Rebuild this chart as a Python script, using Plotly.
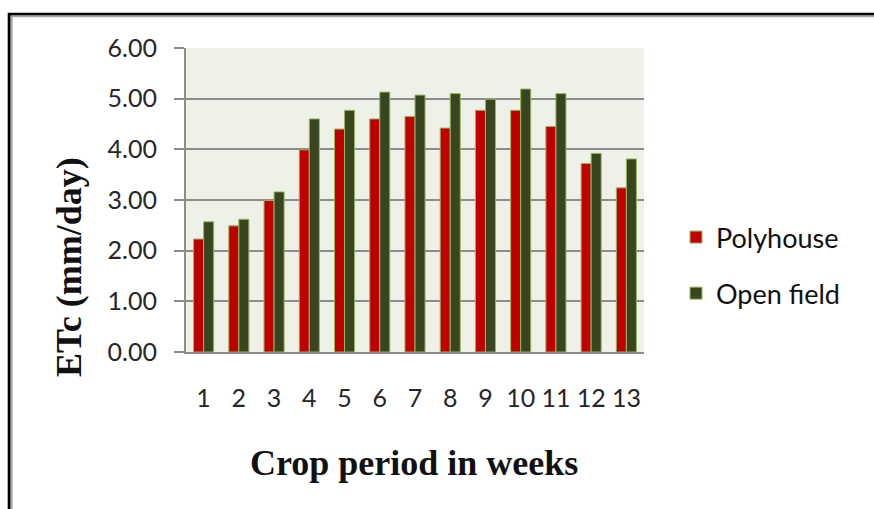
import plotly.graph_objects as go

# Weekly crop evapotranspiration (mm/day)
weeks = list(range(1, 14))
polyhouse = [2.23, 2.49, 2.99, 3.99, 4.40, 4.60, 4.65, 4.42, 4.77, 4.77, 4.45, 3.72, 3.24]
open_field = [2.57, 2.62, 3.16, 4.60, 4.77, 5.13, 5.07, 5.10, 4.99, 5.19, 5.10, 3.92, 3.81]
y_ticks = [0, 1, 2, 3, 4, 5, 6]

W, H = 874, 509
L, R, T, B = 186, 230, 48, 157
pw, ph = W - L - R, H - T - B


def px_x(p):
    return (p - L) / pw


def px_y(p):
    return (H - B - p) / ph


tick_font = dict(family="Lato, 'Open Sans', sans-serif", size=25, color="#262626")
title_font_y = dict(family="'Liberation Serif', serif", size=36, color="#111111")
title_font_x = dict(family="'Liberation Serif', serif", size=36, color="#111111")

fig = go.Figure()
fig.add_trace(go.Bar(
    x=weeks, y=polyhouse, name="Polyhouse",
    marker=dict(color="#c00000", line=dict(color="#9bb35f", width=1)),
    legendgroup="a",
))
fig.add_trace(go.Bar(
    x=weeks, y=open_field, name="Open field",
    marker=dict(color="#37461e", line=dict(color="#9bb35f", width=1)),
    legendgroup="b",
))

fig.update_layout(
    width=W, height=H,
    margin=dict(l=L, r=R, t=T, b=B),
    paper_bgcolor="white",
    plot_bgcolor="#eef1e7",
    barmode="group",
    bargap=0.43,
    bargroupgap=0,
    showlegend=True,
    legend=dict(
        x=px_x(676), y=px_y(213), xanchor="left", yanchor="top",
        font=dict(family="Lato, 'Open Sans', sans-serif", size=27, color="#111111"),
        tracegroupgap=18,
        bgcolor="rgba(0,0,0,0)",
        itemwidth=30,
    ),
    xaxis=dict(
        range=[0.5, 13.5],
        tickmode="array", tickvals=weeks, ticktext=[str(w) for w in weeks],
        showgrid=False, zeroline=False,
        showline=True, linecolor="#8c8c8c", linewidth=2,
        ticks="", tickfont=tick_font,
        ticklabelstandoff=23,
        fixedrange=True,
    ),
    yaxis=dict(
        range=[0, 6],
        tickmode="array", tickvals=y_ticks,
        tickformat=".2f",
        showgrid=True, gridcolor="#8c8c8c", gridwidth=1.5,
        zeroline=False,
        showline=True, linecolor="#8c8c8c", linewidth=2,
        ticks="outside", ticklen=10, tickcolor="#8c8c8c", tickwidth=1.5,
        tickfont=tick_font,
        ticklabelstandoff=12,
        fixedrange=True,
    ),
)

# Axis titles
fig.add_annotation(
    text="<b>ETc (mm/day)</b>", xref="paper", yref="paper",
    x=px_x(69), y=px_y(267), xanchor="center", yanchor="middle",
    textangle=-90, showarrow=False, font=title_font_y,
)
fig.add_annotation(
    text="<b>Crop period in weeks</b>", xref="paper", yref="paper",
    x=px_x(414), y=px_y(463), xanchor="center", yanchor="middle",
    showarrow=False, font=title_font_x,
)

# Outer frame: black border with a thin grey inner line
fig.add_shape(type="rect", xref="paper", yref="paper",
              x0=px_x(9.2), x1=px_x(920), y0=px_y(14.2), y1=px_y(560),
              line=dict(color="black", width=3), fillcolor="rgba(0,0,0,0)", layer="above")
fig.add_shape(type="rect", xref="paper", yref="paper",
              x0=px_x(11.6), x1=px_x(920), y0=px_y(16.3), y1=px_y(560),
              line=dict(color="#a6a6a6", width=2), fillcolor="rgba(0,0,0,0)", layer="above")

fig.write_html("out.html")
